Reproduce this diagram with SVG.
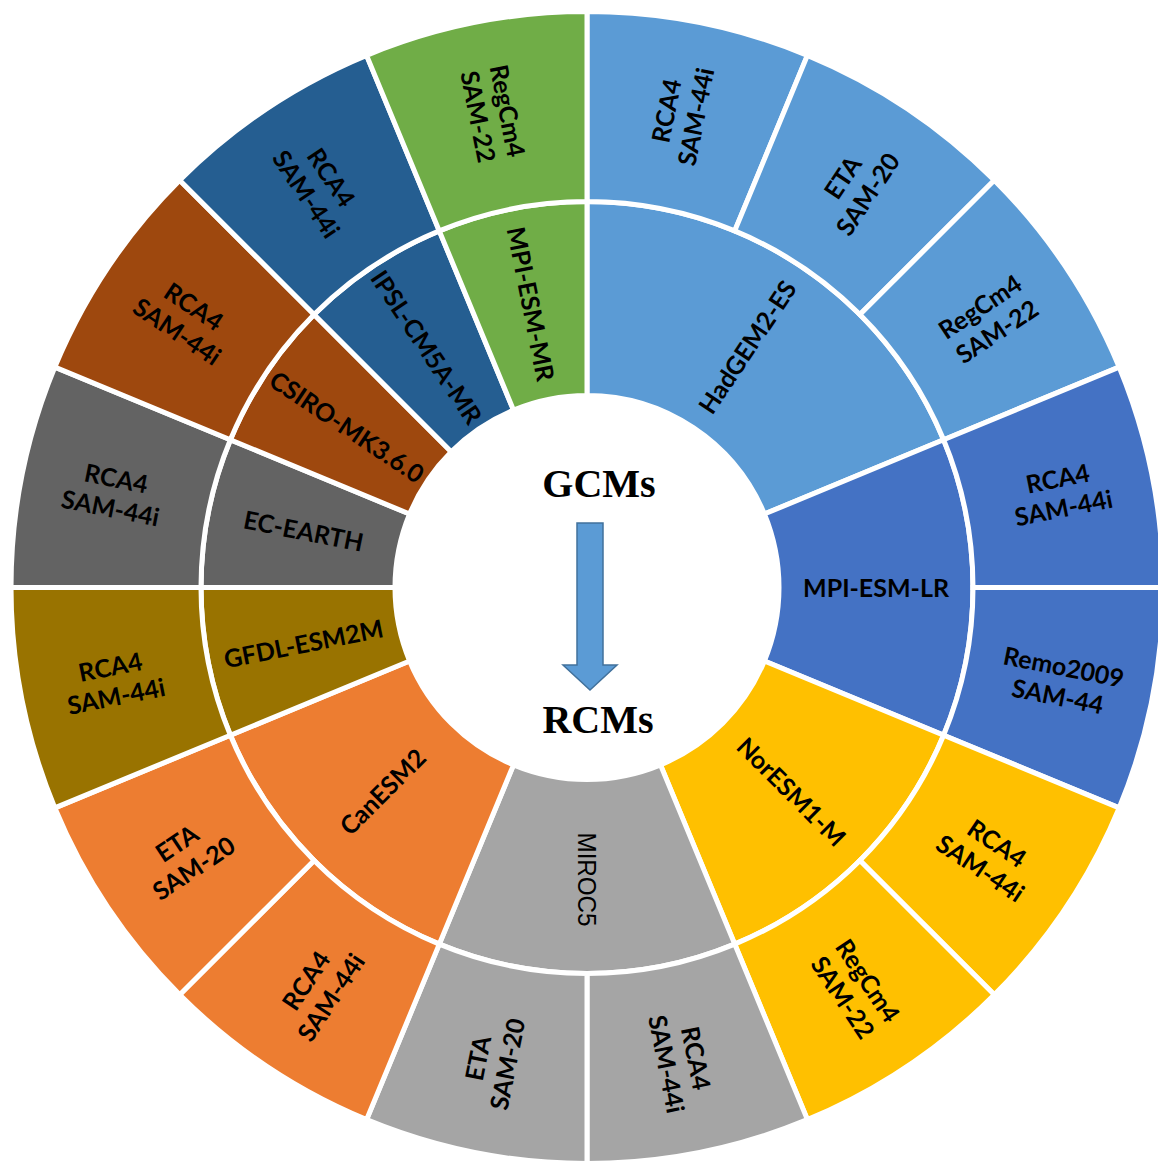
<svg xmlns="http://www.w3.org/2000/svg" width="1158" height="1163" viewBox="0 0 1158 1163">
<style>
.seg{stroke:#ffffff;stroke-width:5;stroke-linejoin:miter}
.lb{font-family:Lato,"Open Sans","Liberation Sans",sans-serif;font-weight:700;font-size:25px;fill:#000;text-anchor:middle}
.thin{font-family:"Liberation Sans",Arial,sans-serif;font-weight:400;font-size:26px;fill:#000;text-anchor:middle}
.title{font-family:"Liberation Serif","Times New Roman",serif;font-weight:700;font-size:40px;fill:#000;text-anchor:middle}
.c1{fill:#5B9BD5}.c2{fill:#4472C4}.c3{fill:#FFC000}.c4{fill:#A5A5A5}.c5{fill:#ED7D31}
.c6{fill:#997300}.c7{fill:#636363}.c8{fill:#9E480E}.c9{fill:#255E91}.c10{fill:#70AD47}
</style>
<rect width="1158" height="1163" fill="#ffffff"/>
<g transform="translate(587 587.5)">
<g id="HadGEM2-ES">
<path class="seg c1" d="M0,-386 A386 386 0 0 1 356.62,-147.72 L177.38,-73.47 A192 192 0 0 0 0,-192 Z"/>
<text class="lb" transform="translate(160.56 -240.29) rotate(-56.25)" y="9">HadGEM2-ES</text>
<g id="HadGEM2-ES-RCA4">
<path class="seg c1" d="M0,-576 A576 576 0 0 1 220.43,-532.15 L147.72,-356.62 A386 386 0 0 0 0,-386 Z"/>
<text class="lb" transform="translate(94.23 -473.72) rotate(-78.75)"><tspan x="0" y="-6">RCA4</tspan><tspan x="0" y="24">SAM-44i</tspan></text>
</g>
<g id="HadGEM2-ES-ETA">
<path class="seg c1" d="M220.43,-532.15 A576 576 0 0 1 407.29,-407.29 L272.94,-272.94 A386 386 0 0 0 147.72,-356.62 Z"/>
<text class="lb" transform="translate(268.34 -401.60) rotate(-56.25)"><tspan x="0" y="-6">ETA</tspan><tspan x="0" y="24">SAM-20</tspan></text>
</g>
<g id="HadGEM2-ES-RegCm4">
<path class="seg c1" d="M407.29,-407.29 A576 576 0 0 1 532.15,-220.43 L356.62,-147.72 A386 386 0 0 0 272.94,-272.94 Z"/>
<text class="lb" transform="translate(401.60 -268.34) rotate(-33.75)"><tspan x="0" y="-6">RegCm4</tspan><tspan x="0" y="24">SAM-22</tspan></text>
</g>
</g>
<g id="MPI-ESM-LR">
<path class="seg c2" d="M356.62,-147.72 A386 386 0 0 1 356.62,147.72 L177.38,73.47 A192 192 0 0 0 177.38,-73.47 Z"/>
<text class="lb" transform="translate(289 0)" y="9">MPI-ESM-LR</text>
<g id="MPI-ESM-LR-RCA4">
<path class="seg c2" d="M532.15,-220.43 A576 576 0 0 1 576,0 L386,0 A386 386 0 0 0 356.62,-147.72 Z"/>
<text class="lb" transform="translate(473.72 -94.23) rotate(-11.25)"><tspan x="0" y="-6">RCA4</tspan><tspan x="0" y="24">SAM-44i</tspan></text>
</g>
<g id="MPI-ESM-LR-Remo2009">
<path class="seg c2" d="M576,0 A576 576 0 0 1 532.15,220.43 L356.62,147.72 A386 386 0 0 0 386,0 Z"/>
<text class="lb" transform="translate(473.72 94.23) rotate(11.25)"><tspan x="0" y="-6">Remo2009</tspan><tspan x="0" y="24">SAM-44</tspan></text>
</g>
</g>
<g id="NorESM1-M">
<path class="seg c3" d="M356.62,147.72 A386 386 0 0 1 147.72,356.62 L73.47,177.38 A192 192 0 0 0 177.38,73.47 Z"/>
<text class="lb" transform="translate(204.35 204.35) rotate(45)" y="9">NorESM1-M</text>
<g id="NorESM1-M-RCA4">
<path class="seg c3" d="M532.15,220.43 A576 576 0 0 1 407.29,407.29 L272.94,272.94 A386 386 0 0 0 356.62,147.72 Z"/>
<text class="lb" transform="translate(401.60 268.34) rotate(33.75)"><tspan x="0" y="-6">RCA4</tspan><tspan x="0" y="24">SAM-44i</tspan></text>
</g>
<g id="NorESM1-M-RegCm4">
<path class="seg c3" d="M407.29,407.29 A576 576 0 0 1 220.43,532.15 L147.72,356.62 A386 386 0 0 0 272.94,272.94 Z"/>
<text class="lb" transform="translate(268.34 401.60) rotate(56.25)"><tspan x="0" y="-6">RegCm4</tspan><tspan x="0" y="24">SAM-22</tspan></text>
</g>
</g>
<g id="MIROC5">
<path class="seg c4" d="M147.72,356.62 A386 386 0 0 1 -147.72,356.62 L-73.47,177.38 A192 192 0 0 0 73.47,177.38 Z"/>
<text class="thin" transform="translate(0 292) rotate(90)" y="9" textLength="94" lengthAdjust="spacingAndGlyphs">MIROC5</text>
<g id="MIROC5-RCA4">
<path class="seg c4" d="M220.43,532.15 A576 576 0 0 1 0,576 L0,386 A386 386 0 0 0 147.72,356.62 Z"/>
<text class="lb" transform="translate(94.23 473.72) rotate(78.75)"><tspan x="0" y="-6">RCA4</tspan><tspan x="0" y="24">SAM-44i</tspan></text>
</g>
<g id="MIROC5-ETA">
<path class="seg c4" d="M0,576 A576 576 0 0 1 -220.43,532.15 L-147.72,356.62 A386 386 0 0 0 0,386 Z"/>
<text class="lb" transform="translate(-94.23 473.72) rotate(-78.75)"><tspan x="0" y="-6">ETA</tspan><tspan x="0" y="24">SAM-20</tspan></text>
</g>
</g>
<g id="CanESM2">
<path class="seg c5" d="M-147.72,356.62 A386 386 0 0 1 -356.62,147.72 L-177.38,73.47 A192 192 0 0 0 -73.47,177.38 Z"/>
<text class="lb" transform="translate(-204.35 204.35) rotate(-45)" y="9">CanESM2</text>
<g id="CanESM2-RCA4">
<path class="seg c5" d="M-220.43,532.15 A576 576 0 0 1 -407.29,407.29 L-272.94,272.94 A386 386 0 0 0 -147.72,356.62 Z"/>
<text class="lb" transform="translate(-268.34 401.60) rotate(-56.25)"><tspan x="0" y="-6">RCA4</tspan><tspan x="0" y="24">SAM-44i</tspan></text>
</g>
<g id="CanESM2-ETA">
<path class="seg c5" d="M-407.29,407.29 A576 576 0 0 1 -532.15,220.43 L-356.62,147.72 A386 386 0 0 0 -272.94,272.94 Z"/>
<text class="lb" transform="translate(-401.60 268.34) rotate(-33.75)"><tspan x="0" y="-6">ETA</tspan><tspan x="0" y="24">SAM-20</tspan></text>
</g>
</g>
<g id="GFDL-ESM2M">
<path class="seg c6" d="M-356.62,147.72 A386 386 0 0 1 -386,0 L-192,0 A192 192 0 0 0 -177.38,73.47 Z"/>
<text class="lb" transform="translate(-283.45 56.38) rotate(-11.25)" y="9">GFDL-ESM2M</text>
<g id="GFDL-ESM2M-RCA4">
<path class="seg c6" d="M-532.15,220.43 A576 576 0 0 1 -576,0 L-386,0 A386 386 0 0 0 -356.62,147.72 Z"/>
<text class="lb" transform="translate(-473.72 94.23) rotate(-11.25)"><tspan x="0" y="-6">RCA4</tspan><tspan x="0" y="24">SAM-44i</tspan></text>
</g>
</g>
<g id="EC-EARTH">
<path class="seg c7" d="M-386,0 A386 386 0 0 1 -356.62,-147.72 L-177.38,-73.47 A192 192 0 0 0 -192,0 Z"/>
<text class="lb" transform="translate(-283.45 -56.38) rotate(11.25)" y="9">EC-EARTH</text>
<g id="EC-EARTH-RCA4">
<path class="seg c7" d="M-576,0 A576 576 0 0 1 -532.15,-220.43 L-356.62,-147.72 A386 386 0 0 0 -386,0 Z"/>
<text class="lb" transform="translate(-473.72 -94.23) rotate(11.25)"><tspan x="0" y="-6">RCA4</tspan><tspan x="0" y="24">SAM-44i</tspan></text>
</g>
</g>
<g id="CSIRO-MK3.6.0">
<path class="seg c8" d="M-356.62,-147.72 A386 386 0 0 1 -272.94,-272.94 L-135.76,-135.76 A192 192 0 0 0 -177.38,-73.47 Z"/>
<text class="lb" transform="translate(-240.29 -160.56) rotate(33.75)" y="9">CSIRO-MK3.6.0</text>
<g id="CSIRO-MK3.6.0-RCA4">
<path class="seg c8" d="M-532.15,-220.43 A576 576 0 0 1 -407.29,-407.29 L-272.94,-272.94 A386 386 0 0 0 -356.62,-147.72 Z"/>
<text class="lb" transform="translate(-401.60 -268.34) rotate(33.75)"><tspan x="0" y="-6">RCA4</tspan><tspan x="0" y="24">SAM-44i</tspan></text>
</g>
</g>
<g id="IPSL-CM5A-MR">
<path class="seg c9" d="M-272.94,-272.94 A386 386 0 0 1 -147.72,-356.62 L-73.47,-177.38 A192 192 0 0 0 -135.76,-135.76 Z"/>
<text class="lb" transform="translate(-160.56 -240.29) rotate(56.25)" y="9">IPSL-CM5A-MR</text>
<g id="IPSL-CM5A-MR-RCA4">
<path class="seg c9" d="M-407.29,-407.29 A576 576 0 0 1 -220.43,-532.15 L-147.72,-356.62 A386 386 0 0 0 -272.94,-272.94 Z"/>
<text class="lb" transform="translate(-268.34 -401.60) rotate(56.25)"><tspan x="0" y="-6">RCA4</tspan><tspan x="0" y="24">SAM-44i</tspan></text>
</g>
</g>
<g id="MPI-ESM-MR">
<path class="seg c10" d="M-147.72,-356.62 A386 386 0 0 1 0,-386 L0,-192 A192 192 0 0 0 -73.47,-177.38 Z"/>
<text class="lb" transform="translate(-56.38 -283.45) rotate(78.75)" y="9">MPI-ESM-MR</text>
<g id="MPI-ESM-MR-RegCm4">
<path class="seg c10" d="M-220.43,-532.15 A576 576 0 0 1 0,-576 L0,-386 A386 386 0 0 0 -147.72,-356.62 Z"/>
<text class="lb" transform="translate(-94.23 -473.72) rotate(78.75)"><tspan x="0" y="-6">RegCm4</tspan><tspan x="0" y="24">SAM-22</tspan></text>
</g>
</g>
</g>
<g id="center">
<text class="title" x="599" y="497">GCMs</text>
<text class="title" x="598" y="733">RCMs</text>
</g>
<g id="connectors">
<path d="M577,523 H603 V665 H617 L590,690 L563,665 H577 Z" fill="#5B9BD5" stroke="#41719C" stroke-width="1.5" stroke-linejoin="miter"/>
</g>
</svg>
